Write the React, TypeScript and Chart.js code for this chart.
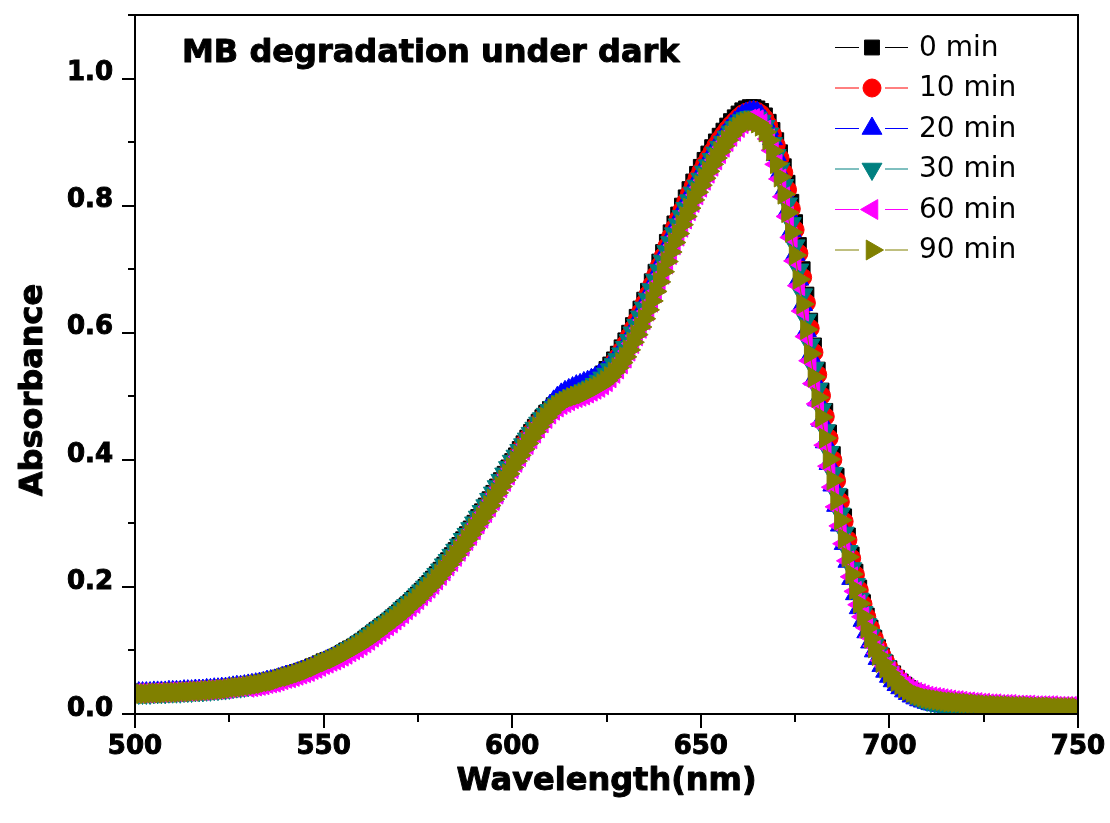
import React, { useEffect, useRef } from 'react';
import { Chart, registerables } from 'chart.js';
import { drawPoint } from 'chart.js/helpers';

Chart.register(...registerables);

// Wavelength sampling grid (1 nm steps, 500–750 nm)
const WL_START = 500;
const WL_END = 750;
const WAVELENGTHS: number[] = [];
for (let w = WL_START; w <= WL_END; w++) WAVELENGTHS.push(w);

// Absorbance values (one per nm, 500..750)
const ABS_0MIN = [
  0.034, 0.034, 0.034, 0.034, 0.034, 0.035, 0.035, 0.035, 0.035, 0.036,
  0.036, 0.036, 0.036, 0.037, 0.037, 0.037, 0.038, 0.038, 0.038, 0.039,
  0.039, 0.040, 0.040, 0.041, 0.041, 0.042, 0.043, 0.044, 0.044, 0.045,
  0.046, 0.047, 0.048, 0.049, 0.050, 0.052, 0.053, 0.054, 0.056, 0.058,
  0.060, 0.062, 0.064, 0.066, 0.068, 0.070, 0.072, 0.075, 0.077, 0.080,
  0.083, 0.085, 0.087, 0.090, 0.093, 0.096, 0.100, 0.103, 0.106, 0.110,
  0.114, 0.118, 0.123, 0.127, 0.132, 0.136, 0.141, 0.145, 0.150, 0.155,
  0.160, 0.166, 0.171, 0.176, 0.182, 0.188, 0.194, 0.200, 0.206, 0.213,
  0.220, 0.227, 0.235, 0.242, 0.250, 0.258, 0.266, 0.275, 0.283, 0.292,
  0.301, 0.310, 0.319, 0.328, 0.338, 0.348, 0.358, 0.368, 0.378, 0.388,
  0.398, 0.407, 0.417, 0.426, 0.435, 0.444, 0.452, 0.460, 0.467, 0.474,
  0.480, 0.486, 0.491, 0.495, 0.499, 0.502, 0.505, 0.508, 0.511, 0.514,
  0.517, 0.521, 0.525, 0.530, 0.536, 0.543, 0.550, 0.558, 0.567, 0.577,
  0.588, 0.600, 0.612, 0.625, 0.638, 0.652, 0.666, 0.681, 0.696, 0.712,
  0.727, 0.743, 0.758, 0.772, 0.786, 0.800, 0.813, 0.826, 0.838, 0.850,
  0.861, 0.872, 0.882, 0.892, 0.901, 0.910, 0.918, 0.926, 0.933, 0.939,
  0.945, 0.950, 0.953, 0.955, 0.955, 0.953, 0.949, 0.942, 0.932, 0.919,
  0.903, 0.884, 0.862, 0.836, 0.806, 0.774, 0.738, 0.700, 0.660, 0.619,
  0.580, 0.542, 0.509, 0.477, 0.443, 0.409, 0.375, 0.342, 0.311, 0.281,
  0.251, 0.224, 0.199, 0.176, 0.155, 0.136, 0.120, 0.105, 0.092, 0.081,
  0.072, 0.064, 0.057, 0.051, 0.046, 0.041, 0.037, 0.034, 0.031, 0.029,
  0.027, 0.025, 0.024, 0.023, 0.022, 0.021, 0.020, 0.019, 0.019, 0.018,
  0.018, 0.017, 0.016, 0.016, 0.015, 0.015, 0.014, 0.014, 0.014, 0.013,
  0.013, 0.013, 0.013, 0.012, 0.012, 0.012, 0.012, 0.012, 0.011, 0.011,
  0.011, 0.011, 0.011, 0.011, 0.010, 0.010, 0.010, 0.010, 0.010, 0.010,
  0.010,
];

const ABS_10MIN = [
  0.033, 0.033, 0.033, 0.033, 0.033, 0.034, 0.034, 0.034, 0.034, 0.035,
  0.035, 0.035, 0.035, 0.036, 0.036, 0.036, 0.037, 0.037, 0.037, 0.038,
  0.038, 0.039, 0.039, 0.040, 0.040, 0.041, 0.042, 0.043, 0.043, 0.044,
  0.045, 0.046, 0.047, 0.048, 0.049, 0.051, 0.052, 0.053, 0.055, 0.057,
  0.059, 0.060, 0.062, 0.064, 0.066, 0.068, 0.070, 0.073, 0.075, 0.078,
  0.081, 0.084, 0.086, 0.089, 0.092, 0.095, 0.098, 0.102, 0.105, 0.108,
  0.112, 0.116, 0.121, 0.125, 0.130, 0.134, 0.139, 0.143, 0.148, 0.153,
  0.158, 0.163, 0.169, 0.174, 0.179, 0.185, 0.191, 0.197, 0.203, 0.210,
  0.217, 0.224, 0.231, 0.239, 0.246, 0.254, 0.262, 0.271, 0.279, 0.288,
  0.297, 0.306, 0.315, 0.324, 0.333, 0.343, 0.353, 0.363, 0.373, 0.383,
  0.394, 0.405, 0.415, 0.425, 0.434, 0.443, 0.451, 0.459, 0.466, 0.473,
  0.479, 0.485, 0.490, 0.494, 0.498, 0.501, 0.504, 0.507, 0.510, 0.513,
  0.516, 0.520, 0.524, 0.528, 0.533, 0.539, 0.546, 0.554, 0.562, 0.572,
  0.582, 0.594, 0.606, 0.619, 0.632, 0.646, 0.660, 0.675, 0.690, 0.705,
  0.720, 0.736, 0.751, 0.765, 0.779, 0.793, 0.806, 0.819, 0.831, 0.843,
  0.854, 0.865, 0.875, 0.885, 0.895, 0.904, 0.912, 0.920, 0.927, 0.933,
  0.939, 0.944, 0.947, 0.949, 0.950, 0.948, 0.944, 0.937, 0.926, 0.912,
  0.895, 0.875, 0.852, 0.825, 0.795, 0.762, 0.725, 0.687, 0.647, 0.607,
  0.569, 0.534, 0.501, 0.468, 0.434, 0.400, 0.367, 0.334, 0.303, 0.274,
  0.245, 0.219, 0.195, 0.173, 0.153, 0.135, 0.119, 0.105, 0.093, 0.082,
  0.072, 0.064, 0.057, 0.051, 0.046, 0.041, 0.037, 0.033, 0.030, 0.028,
  0.026, 0.024, 0.023, 0.022, 0.021, 0.020, 0.019, 0.018, 0.018, 0.017,
  0.017, 0.016, 0.016, 0.015, 0.015, 0.014, 0.014, 0.014, 0.013, 0.013,
  0.013, 0.012, 0.012, 0.012, 0.012, 0.012, 0.012, 0.012, 0.011, 0.011,
  0.011, 0.011, 0.011, 0.011, 0.011, 0.011, 0.010, 0.010, 0.010, 0.010,
  0.010,
];

const ABS_20MIN = [
  0.033, 0.033, 0.033, 0.033, 0.033, 0.034, 0.034, 0.034, 0.034, 0.035,
  0.035, 0.035, 0.035, 0.036, 0.036, 0.036, 0.037, 0.037, 0.037, 0.038,
  0.038, 0.039, 0.039, 0.040, 0.040, 0.041, 0.042, 0.043, 0.043, 0.044,
  0.045, 0.046, 0.047, 0.048, 0.049, 0.051, 0.052, 0.053, 0.055, 0.057,
  0.059, 0.060, 0.062, 0.064, 0.066, 0.068, 0.070, 0.073, 0.075, 0.078,
  0.081, 0.084, 0.086, 0.089, 0.092, 0.095, 0.098, 0.102, 0.105, 0.108,
  0.112, 0.116, 0.121, 0.125, 0.130, 0.134, 0.139, 0.143, 0.148, 0.153,
  0.158, 0.163, 0.169, 0.174, 0.179, 0.185, 0.191, 0.197, 0.203, 0.210,
  0.217, 0.224, 0.231, 0.239, 0.246, 0.254, 0.262, 0.271, 0.279, 0.288,
  0.297, 0.306, 0.315, 0.324, 0.333, 0.343, 0.353, 0.363, 0.373, 0.383,
  0.393, 0.403, 0.413, 0.423, 0.433, 0.443, 0.452, 0.461, 0.469, 0.477,
  0.485, 0.492, 0.498, 0.503, 0.507, 0.510, 0.513, 0.516, 0.518, 0.521,
  0.523, 0.526, 0.529, 0.533, 0.537, 0.542, 0.548, 0.555, 0.563, 0.571,
  0.580, 0.591, 0.603, 0.615, 0.628, 0.642, 0.656, 0.670, 0.685, 0.700,
  0.716, 0.731, 0.746, 0.761, 0.775, 0.789, 0.802, 0.815, 0.827, 0.839,
  0.850, 0.861, 0.872, 0.882, 0.892, 0.901, 0.910, 0.918, 0.925, 0.931,
  0.937, 0.942, 0.945, 0.947, 0.948, 0.946, 0.941, 0.933, 0.921, 0.905,
  0.880, 0.852, 0.823, 0.792, 0.760, 0.723, 0.684, 0.644, 0.603, 0.564,
  0.527, 0.494, 0.462, 0.428, 0.394, 0.360, 0.328, 0.297, 0.268, 0.240,
  0.213, 0.189, 0.167, 0.147, 0.129, 0.113, 0.099, 0.087, 0.076, 0.067,
  0.059, 0.052, 0.046, 0.041, 0.036, 0.032, 0.028, 0.025, 0.022, 0.020,
  0.018, 0.016, 0.015, 0.014, 0.013, 0.012, 0.012, 0.011, 0.011, 0.010,
  0.010, 0.010, 0.009, 0.009, 0.009, 0.009, 0.008, 0.008, 0.008, 0.008,
  0.008, 0.008, 0.008, 0.008, 0.008, 0.007, 0.007, 0.007, 0.007, 0.007,
  0.007, 0.007, 0.007, 0.007, 0.007, 0.007, 0.007, 0.007, 0.007, 0.007,
  0.007,
];

const ABS_30MIN = [
  0.033, 0.033, 0.033, 0.033, 0.033, 0.034, 0.034, 0.034, 0.034, 0.035,
  0.035, 0.035, 0.035, 0.036, 0.036, 0.036, 0.037, 0.037, 0.037, 0.038,
  0.038, 0.039, 0.039, 0.040, 0.040, 0.041, 0.042, 0.043, 0.043, 0.044,
  0.045, 0.046, 0.047, 0.048, 0.049, 0.051, 0.052, 0.053, 0.055, 0.057,
  0.059, 0.060, 0.062, 0.064, 0.066, 0.068, 0.070, 0.073, 0.075, 0.078,
  0.083, 0.085, 0.087, 0.090, 0.093, 0.096, 0.100, 0.103, 0.106, 0.110,
  0.114, 0.118, 0.123, 0.127, 0.132, 0.136, 0.141, 0.145, 0.150, 0.155,
  0.160, 0.166, 0.171, 0.176, 0.182, 0.188, 0.194, 0.200, 0.206, 0.213,
  0.220, 0.227, 0.235, 0.242, 0.250, 0.258, 0.266, 0.275, 0.283, 0.292,
  0.301, 0.310, 0.319, 0.328, 0.338, 0.348, 0.358, 0.368, 0.378, 0.388,
  0.398, 0.406, 0.415, 0.424, 0.433, 0.442, 0.450, 0.458, 0.465, 0.472,
  0.478, 0.483, 0.488, 0.492, 0.495, 0.498, 0.501, 0.503, 0.506, 0.509,
  0.512, 0.515, 0.519, 0.524, 0.529, 0.535, 0.542, 0.550, 0.558, 0.567,
  0.577, 0.588, 0.600, 0.612, 0.625, 0.639, 0.653, 0.668, 0.683, 0.698,
  0.713, 0.728, 0.742, 0.756, 0.770, 0.783, 0.796, 0.808, 0.820, 0.831,
  0.842, 0.853, 0.863, 0.873, 0.883, 0.892, 0.900, 0.908, 0.916, 0.923,
  0.929, 0.934, 0.937, 0.939, 0.940, 0.938, 0.933, 0.925, 0.913, 0.898,
  0.879, 0.858, 0.832, 0.803, 0.772, 0.737, 0.699, 0.660, 0.620, 0.581,
  0.544, 0.511, 0.479, 0.446, 0.412, 0.379, 0.346, 0.315, 0.285, 0.256,
  0.229, 0.204, 0.181, 0.160, 0.141, 0.124, 0.109, 0.096, 0.085, 0.075,
  0.066, 0.059, 0.052, 0.046, 0.041, 0.036, 0.032, 0.029, 0.026, 0.024,
  0.022, 0.020, 0.019, 0.018, 0.017, 0.016, 0.015, 0.015, 0.014, 0.014,
  0.013, 0.013, 0.012, 0.012, 0.012, 0.011, 0.011, 0.011, 0.011, 0.010,
  0.010, 0.010, 0.010, 0.010, 0.010, 0.010, 0.010, 0.010, 0.010, 0.010,
  0.010, 0.009, 0.009, 0.009, 0.009, 0.009, 0.009, 0.009, 0.009, 0.009,
  0.009,
];

const ABS_60MIN = [
  0.033, 0.033, 0.033, 0.033, 0.033, 0.034, 0.034, 0.034, 0.034, 0.035,
  0.035, 0.035, 0.035, 0.036, 0.036, 0.036, 0.037, 0.037, 0.037, 0.038,
  0.038, 0.039, 0.039, 0.040, 0.040, 0.041, 0.042, 0.043, 0.043, 0.044,
  0.042, 0.043, 0.044, 0.045, 0.046, 0.048, 0.049, 0.050, 0.052, 0.054,
  0.056, 0.057, 0.059, 0.061, 0.063, 0.065, 0.067, 0.070, 0.072, 0.075,
  0.078, 0.080, 0.083, 0.085, 0.088, 0.091, 0.094, 0.098, 0.101, 0.104,
  0.108, 0.112, 0.116, 0.121, 0.125, 0.130, 0.134, 0.139, 0.143, 0.148,
  0.153, 0.158, 0.164, 0.169, 0.174, 0.180, 0.186, 0.192, 0.198, 0.204,
  0.211, 0.218, 0.225, 0.233, 0.240, 0.248, 0.256, 0.264, 0.273, 0.281,
  0.290, 0.299, 0.308, 0.317, 0.326, 0.336, 0.346, 0.356, 0.366, 0.376,
  0.386, 0.396, 0.405, 0.415, 0.424, 0.433, 0.442, 0.450, 0.458, 0.465,
  0.472, 0.478, 0.483, 0.487, 0.490, 0.493, 0.496, 0.498, 0.500, 0.502,
  0.505, 0.508, 0.511, 0.514, 0.518, 0.523, 0.529, 0.536, 0.543, 0.551,
  0.560, 0.571, 0.583, 0.595, 0.607, 0.620, 0.634, 0.648, 0.663, 0.678,
  0.692, 0.708, 0.723, 0.738, 0.752, 0.766, 0.779, 0.792, 0.805, 0.817,
  0.829, 0.840, 0.851, 0.862, 0.872, 0.882, 0.892, 0.901, 0.909, 0.917,
  0.923, 0.929, 0.933, 0.936, 0.937, 0.935, 0.929, 0.919, 0.905, 0.887,
  0.865, 0.842, 0.814, 0.783, 0.750, 0.713, 0.674, 0.634, 0.594, 0.556,
  0.520, 0.488, 0.456, 0.423, 0.390, 0.357, 0.326, 0.296, 0.268, 0.241,
  0.216, 0.193, 0.172, 0.153, 0.136, 0.121, 0.107, 0.095, 0.084, 0.075,
  0.067, 0.060, 0.054, 0.049, 0.044, 0.040, 0.037, 0.034, 0.032, 0.030,
  0.028, 0.027, 0.026, 0.025, 0.024, 0.023, 0.022, 0.021, 0.021, 0.020,
  0.019, 0.019, 0.018, 0.018, 0.017, 0.017, 0.016, 0.016, 0.016, 0.015,
  0.015, 0.015, 0.015, 0.014, 0.014, 0.014, 0.014, 0.014, 0.013, 0.013,
  0.013, 0.013, 0.013, 0.013, 0.012, 0.012, 0.012, 0.012, 0.012, 0.012,
  0.012,
];

const ABS_90MIN = [
  0.032, 0.032, 0.032, 0.032, 0.032, 0.033, 0.033, 0.033, 0.033, 0.034,
  0.034, 0.034, 0.034, 0.035, 0.035, 0.035, 0.036, 0.036, 0.036, 0.037,
  0.037, 0.038, 0.038, 0.039, 0.039, 0.040, 0.041, 0.042, 0.042, 0.043,
  0.044, 0.045, 0.046, 0.047, 0.048, 0.050, 0.051, 0.052, 0.054, 0.056,
  0.058, 0.059, 0.061, 0.063, 0.065, 0.067, 0.069, 0.072, 0.074, 0.077,
  0.080, 0.082, 0.085, 0.087, 0.090, 0.093, 0.096, 0.100, 0.103, 0.106,
  0.110, 0.114, 0.118, 0.123, 0.127, 0.132, 0.136, 0.141, 0.145, 0.150,
  0.155, 0.160, 0.166, 0.171, 0.176, 0.182, 0.188, 0.194, 0.200, 0.206,
  0.213, 0.220, 0.227, 0.235, 0.242, 0.250, 0.258, 0.266, 0.275, 0.283,
  0.292, 0.301, 0.310, 0.319, 0.328, 0.338, 0.348, 0.358, 0.368, 0.378,
  0.388, 0.398, 0.407, 0.417, 0.426, 0.435, 0.444, 0.452, 0.460, 0.467,
  0.474, 0.480, 0.485, 0.489, 0.492, 0.495, 0.498, 0.500, 0.502, 0.504,
  0.507, 0.510, 0.513, 0.516, 0.520, 0.525, 0.531, 0.538, 0.545, 0.553,
  0.562, 0.573, 0.585, 0.597, 0.609, 0.622, 0.636, 0.650, 0.665, 0.680,
  0.696, 0.712, 0.727, 0.742, 0.756, 0.770, 0.783, 0.796, 0.809, 0.821,
  0.832, 0.843, 0.854, 0.865, 0.875, 0.885, 0.894, 0.903, 0.911, 0.918,
  0.924, 0.928, 0.931, 0.933, 0.933, 0.930, 0.925, 0.916, 0.903, 0.886,
  0.866, 0.845, 0.818, 0.789, 0.758, 0.722, 0.684, 0.645, 0.605, 0.567,
  0.530, 0.498, 0.467, 0.434, 0.401, 0.368, 0.336, 0.305, 0.276, 0.247,
  0.220, 0.196, 0.174, 0.153, 0.135, 0.119, 0.104, 0.092, 0.081, 0.072,
  0.064, 0.057, 0.051, 0.046, 0.041, 0.037, 0.034, 0.031, 0.029, 0.027,
  0.025, 0.024, 0.023, 0.022, 0.021, 0.020, 0.019, 0.019, 0.018, 0.018,
  0.017, 0.017, 0.016, 0.016, 0.015, 0.015, 0.014, 0.014, 0.014, 0.013,
  0.013, 0.013, 0.013, 0.012, 0.012, 0.012, 0.012, 0.012, 0.011, 0.011,
  0.011, 0.011, 0.011, 0.011, 0.010, 0.010, 0.010, 0.010, 0.010, 0.010,
  0.010,
];

const SERIES_LABELS = ['0 min', '10 min', '20 min', '30 min', '60 min', '90 min'];
const SERIES_VALUES = [ABS_0MIN, ABS_10MIN, ABS_20MIN, ABS_30MIN, ABS_60MIN, ABS_90MIN];
const SERIES_COLORS = ['#000000', '#FF0000', '#0000FF', '#008080', '#FF00FF', '#808000'];
const SERIES_MARKERS = ['rect', 'circle', 'triangle', 'triangle', 'triangle', 'triangle'];
const SERIES_ROTATIONS = [0, 0, 0, 180, 270, 90];
const SERIES_RADII = [10.5, 9, 11.5, 11.5, 11.5, 11.5];

const X_MIN = 500;
const X_MAX = 750;
const Y_MIN = 0;
const Y_MAX = 1.1;
const X_TICKS = [500, 550, 600, 650, 700, 750];
const X_MINOR_TICKS = [525, 575, 625, 675, 725];
const Y_TICKS = [0, 0.2, 0.4, 0.6, 0.8, 1.0];
const Y_MINOR_TICKS = [0.1, 0.3, 0.5, 0.7, 0.9, 1.1];

const TITLE = 'MB degradation under dark';
const X_TITLE = 'Wavelength(nm)';
const Y_TITLE = 'Absorbance';

const FONT_FAMILY = '"DejaVu Sans", sans-serif';

// Plot frame (fixed pixel box)
const PLOT_LEFT = 135;
const PLOT_RIGHT = 1078;
const PLOT_TOP = 15;
const PLOT_BOTTOM = 714;
const CANVAS_W = 1110;
const CANVAS_H = 823;

const layoutPlugin = {
  id: 'fixedLayout',
  afterLayout(chart: any) {
    const area = chart.chartArea;
    area.left = PLOT_LEFT;
    area.right = PLOT_RIGHT;
    area.top = PLOT_TOP;
    area.bottom = PLOT_BOTTOM;
    area.width = PLOT_RIGHT - PLOT_LEFT;
    area.height = PLOT_BOTTOM - PLOT_TOP;
    const xs = chart.scales.x;
    const ys = chart.scales.y;
    xs.left = PLOT_LEFT;
    xs.right = PLOT_RIGHT;
    xs.width = PLOT_RIGHT - PLOT_LEFT;
    xs.top = PLOT_BOTTOM;
    xs.bottom = CANVAS_H;
    xs.height = CANVAS_H - PLOT_BOTTOM;
    xs.configure();
    ys.left = 0;
    ys.right = PLOT_LEFT;
    ys.width = PLOT_LEFT;
    ys.top = PLOT_TOP;
    ys.bottom = PLOT_BOTTOM;
    ys.height = PLOT_BOTTOM - PLOT_TOP;
    ys.configure();
  },
};

const framePlugin = {
  id: 'frameAndText',
  afterDatasetsDraw(chart: any) {
    const { ctx, chartArea: a, scales } = chart;
    const xs = scales.x;
    const ys = scales.y;
    ctx.save();
    ctx.strokeStyle = '#000';
    ctx.lineWidth = 2;
    ctx.beginPath();
    ctx.rect(a.left, a.top, a.right - a.left, a.bottom - a.top);
    ctx.stroke();
    ctx.beginPath();
    for (const v of Y_TICKS) {
      const p = Math.round(ys.getPixelForValue(v));
      ctx.moveTo(a.left, p);
      ctx.lineTo(a.left - 13, p);
    }
    for (const v of Y_MINOR_TICKS) {
      const p = Math.round(ys.getPixelForValue(v));
      ctx.moveTo(a.left, p);
      ctx.lineTo(a.left - 7, p);
    }
    for (const v of X_TICKS) {
      const p = Math.round(xs.getPixelForValue(v));
      ctx.moveTo(p, a.bottom);
      ctx.lineTo(p, a.bottom + 14);
    }
    for (const v of X_MINOR_TICKS) {
      const p = Math.round(xs.getPixelForValue(v));
      ctx.moveTo(p, a.bottom);
      ctx.lineTo(p, a.bottom + 8);
    }
    ctx.stroke();
    ctx.restore();
  },
  afterDraw(chart: any) {
    const { ctx, chartArea: a } = chart;
    ctx.save();
    ctx.fillStyle = '#000';
    ctx.strokeStyle = '#000';
    ctx.lineWidth = 1;
    ctx.lineJoin = 'round';
    // plot title
    ctx.font = `bold 32px ${FONT_FAMILY}`;
    ctx.textAlign = 'left';
    ctx.textBaseline = 'alphabetic';
    ctx.fillText(TITLE, 182, 62);
    ctx.strokeText(TITLE, 182, 62);
    // x axis title
    ctx.textAlign = 'center';
    const xMid = (a.left + a.right) / 2;
    ctx.fillText(X_TITLE, xMid, 790);
    ctx.strokeText(X_TITLE, xMid, 790);
    // y axis title
    ctx.save();
    ctx.translate(42, 390);
    ctx.rotate(-Math.PI / 2);
    ctx.fillText(Y_TITLE, 0, 0);
    ctx.strokeText(Y_TITLE, 0, 0);
    ctx.restore();
    // legend
    const rowY0 = 47.5;
    const rowGap = 40.5;
    for (let i = 0; i < SERIES_LABELS.length; i++) {
      const y = rowY0 + i * rowGap;
      const c = SERIES_COLORS[i];
      ctx.strokeStyle = c;
      ctx.lineWidth = 1;
      ctx.beginPath();
      ctx.moveTo(835, y);
      ctx.lineTo(859, y);
      ctx.moveTo(885, y);
      ctx.lineTo(908, y);
      ctx.stroke();
      ctx.fillStyle = c;
      ctx.strokeStyle = c;
      drawPoint(ctx, {
        pointStyle: SERIES_MARKERS[i],
        rotation: SERIES_ROTATIONS[i],
        radius: SERIES_RADII[i],
        borderWidth: 1,
      } as any, 872, y);
      ctx.fillStyle = '#000';
      ctx.font = `28px ${FONT_FAMILY}`;
      ctx.textAlign = 'left';
      ctx.textBaseline = 'middle';
      ctx.fillText(SERIES_LABELS[i], 919, y + 1);
    }
    ctx.restore();
  },
};

export default function App() {
  const canvasRef = useRef<HTMLCanvasElement | null>(null);

  useEffect(() => {
    const canvas = canvasRef.current;
    if (!canvas) return;
    const datasets = SERIES_LABELS.map((label, i) => ({
      label,
      data: WAVELENGTHS.map((w, k) => ({ x: w, y: SERIES_VALUES[i][k] })),
      borderColor: SERIES_COLORS[i],
      backgroundColor: SERIES_COLORS[i],
      borderWidth: 1,
      pointStyle: SERIES_MARKERS[i],
      pointRotation: SERIES_ROTATIONS[i],
      pointRadius: SERIES_RADII[i],
      pointBackgroundColor: SERIES_COLORS[i],
      pointBorderColor: SERIES_COLORS[i],
      pointBorderWidth: 1,
      tension: 0,
      fill: false,
      order: SERIES_LABELS.length - i,
    }));

    const tickFont = { family: FONT_FAMILY, size: 26, weight: 'bold' as const, lineHeight: 1 };

    const chart = new Chart(canvas, {
      type: 'line',
      data: { datasets },
      options: {
        animation: false,
        responsive: false,
        devicePixelRatio: 1,
        events: [],
        parsing: false,
        layout: { padding: { left: 0, right: 32, top: 15, bottom: 0 } },
        plugins: {
          legend: { display: false },
          tooltip: { enabled: false },
          title: { display: false },
        },
        scales: {
          x: {
            type: 'linear',
            position: 'bottom',
            min: X_MIN,
            max: X_MAX,
            afterBuildTicks: (s: any) => { s.ticks = X_TICKS.map((v) => ({ value: v })); },
            grid: { display: false, drawTicks: false },
            border: { display: false },
            ticks: {
              font: tickFont,
              color: '#000',
              textStrokeColor: '#000',
              textStrokeWidth: 1,
              padding: 20,
              maxRotation: 0,
              autoSkip: false,
              callback: (v: any) => String(v),
            },
          },
          y: {
            type: 'linear',
            min: Y_MIN,
            max: Y_MAX,
            afterBuildTicks: (s: any) => { s.ticks = Y_TICKS.map((v) => ({ value: v })); },
            grid: { display: false, drawTicks: false },
            border: { display: false },
            ticks: {
              font: tickFont,
              color: '#000',
              textStrokeColor: '#000',
              textStrokeWidth: 1,
              padding: 22,
              labelOffset: -5,
              autoSkip: false,
              callback: (v: any) => Number(v).toFixed(1),
            },
          },
        },
      },
      plugins: [layoutPlugin, framePlugin],
    } as any);

    return () => chart.destroy();
  }, []);

  return (
    <div style={{ position: 'absolute', left: 0, top: 0, width: CANVAS_W, height: CANVAS_H, background: '#ffffff' }}>
      <canvas ref={canvasRef} width={CANVAS_W} height={CANVAS_H} style={{ display: 'block', width: CANVAS_W, height: CANVAS_H }} />
    </div>
  );
}
